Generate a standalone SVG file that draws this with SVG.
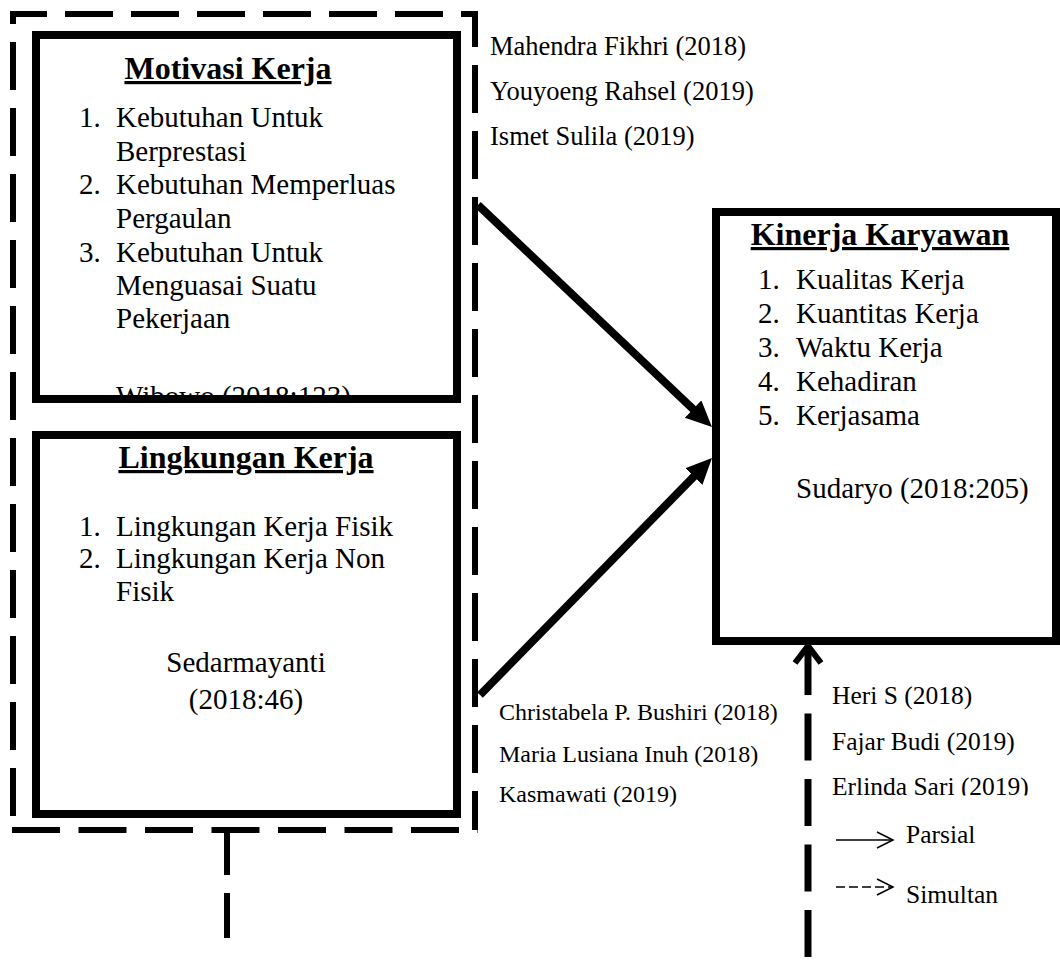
<svg xmlns="http://www.w3.org/2000/svg" width="1060" height="960" viewBox="0 0 1060 960">
<style>
  text { font-family: "Liberation Serif", "Times New Roman", serif; fill: #000; }
  .title { font-size: 32px; font-weight: bold; text-decoration: underline; }
  .body { font-size: 29px; }
  .cite { font-size: 26.5px; }
  .cite2 { font-size: 25.5px; }
  .cite3 { font-size: 24px; }
  .box { fill: #fff; stroke: #000; stroke-width: 8; }
  .dash { stroke: #000; stroke-width: 6; fill: none; stroke-dasharray: 48 18; }
  .arrow { stroke: #000; stroke-width: 8; fill: none; marker-end: url(#head); }
  .legend { stroke: #000; stroke-width: 1.5; fill: none; }
</style>
<defs>
  <marker id="head" markerUnits="userSpaceOnUse" markerWidth="28" markerHeight="26" refX="8" refY="12" orient="auto">
    <path d="M0,0 L26,12 L0,24 Z" fill="#000"/>
  </marker>
  <clipPath id="clipMot"><rect x="40" y="39" width="413" height="356"/></clipPath>
  <clipPath id="clipErl"><rect x="820" y="760" width="240" height="35.5"/></clipPath>
</defs>
<rect width="1060" height="960" fill="#fff"/>

<g id="simultan-frame">
  <line class="dash" x1="12" y1="14" x2="478" y2="14" stroke-dashoffset="13"/>
  <line class="dash" x1="475" y1="11" x2="475" y2="830" stroke-dashoffset="12"/>
  <line class="dash" x1="13" y1="11" x2="13" y2="830" stroke-dashoffset="35"/>
  <line class="dash" x1="12" y1="830" x2="478" y2="830" style="stroke-dasharray:48 18.5"/>
</g>

<g id="motivasi">
  <rect class="box" x="36" y="35" width="421" height="364"/>
  <text class="title" x="228" y="79" text-anchor="middle">Motivasi Kerja</text>
  <text class="body" x="79" y="127">1.</text>
  <text class="body" x="116" y="127">Kebutuhan Untuk</text>
  <text class="body" x="116" y="161">Berprestasi</text>
  <text class="body" x="79" y="194">2.</text>
  <text class="body" x="116" y="194">Kebutuhan Memperluas</text>
  <text class="body" x="116" y="228">Pergaulan</text>
  <text class="body" x="79" y="262">3.</text>
  <text class="body" x="116" y="262">Kebutuhan Untuk</text>
  <text class="body" x="116" y="295">Menguasai Suatu</text>
  <text class="body" x="116" y="328">Pekerjaan</text>
  <g clip-path="url(#clipMot)">
    <text class="body" x="116" y="406">Wibowo (2018:123)</text>
  </g>
</g>

<g id="lingkungan">
  <rect class="box" x="36" y="435" width="421" height="379"/>
  <text class="title" x="246" y="468" text-anchor="middle">Lingkungan Kerja</text>
  <text class="body" x="79" y="536">1.</text>
  <text class="body" x="116" y="536">Lingkungan Kerja Fisik</text>
  <text class="body" x="79" y="568">2.</text>
  <text class="body" x="116" y="568">Lingkungan Kerja Non</text>
  <text class="body" x="116" y="601">Fisik</text>
  <text class="body" x="246" y="672" text-anchor="middle">Sedarmayanti</text>
  <text class="body" x="246" y="709" text-anchor="middle">(2018:46)</text>
</g>

<g id="kinerja">
  <rect class="box" x="716" y="212" width="340" height="429"/>
  <text class="title" x="880" y="245" text-anchor="middle">Kinerja Karyawan</text>
  <text class="body" x="758" y="289">1.</text>
  <text class="body" x="796" y="289">Kualitas Kerja</text>
  <text class="body" x="758" y="323">2.</text>
  <text class="body" x="796" y="323">Kuantitas Kerja</text>
  <text class="body" x="758" y="357">3.</text>
  <text class="body" x="796" y="357">Waktu Kerja</text>
  <text class="body" x="758" y="391">4.</text>
  <text class="body" x="796" y="391">Kehadiran</text>
  <text class="body" x="758" y="425">5.</text>
  <text class="body" x="796" y="425">Kerjasama</text>
  <text class="body" x="796" y="498">Sudaryo (2018:205)</text>
</g>

<g id="connectors">
  <line class="arrow" x1="478" y1="205" x2="698.9" y2="414.6"/>
  <line class="arrow" x1="480" y1="695" x2="699.4" y2="470.9"/>
  <line class="dash" x1="227" y1="830" x2="227" y2="940" style="stroke-dasharray:45 18"/>
  <line x1="808" y1="648" x2="808" y2="958" stroke="#000" stroke-width="7" stroke-dasharray="47 18.5"/>
  <polyline points="795,663 808,646 821,663" fill="none" stroke="#000" stroke-width="6"/>
</g>

<g id="cite-motivasi">
  <text class="cite" x="490" y="55">Mahendra Fikhri (2018)</text>
  <text class="cite" x="490" y="100">Youyoeng Rahsel (2019)</text>
  <text class="cite" x="490" y="145">Ismet Sulila (2019)</text>
</g>

<g id="cite-lingkungan">
  <text class="cite3" x="499" y="720">Christabela P. Bushiri (2018)</text>
  <text class="cite3" x="499" y="762">Maria Lusiana Inuh (2018)</text>
  <text class="cite3" x="499" y="802">Kasmawati (2019)</text>
</g>

<g id="cite-simultan">
  <text class="cite2" x="832" y="704">Heri S (2018)</text>
  <text class="cite2" x="832" y="750">Fajar Budi (2019)</text>
  <g clip-path="url(#clipErl)">
    <text class="cite2" x="832" y="795">Erlinda Sari (2019)</text>
  </g>
</g>

<g id="legend">
  <line class="legend" x1="836" y1="840" x2="893" y2="840"/>
  <polyline class="legend" points="877,832 893,840 877,848"/>
  <text class="cite2" x="906" y="843">Parsial</text>
  <line class="legend" x1="836" y1="887" x2="893" y2="887" stroke-dasharray="9 4"/>
  <polyline class="legend" points="877,879 893,887 877,895"/>
  <text class="cite2" x="906" y="903">Simultan</text>
</g>
</svg>
